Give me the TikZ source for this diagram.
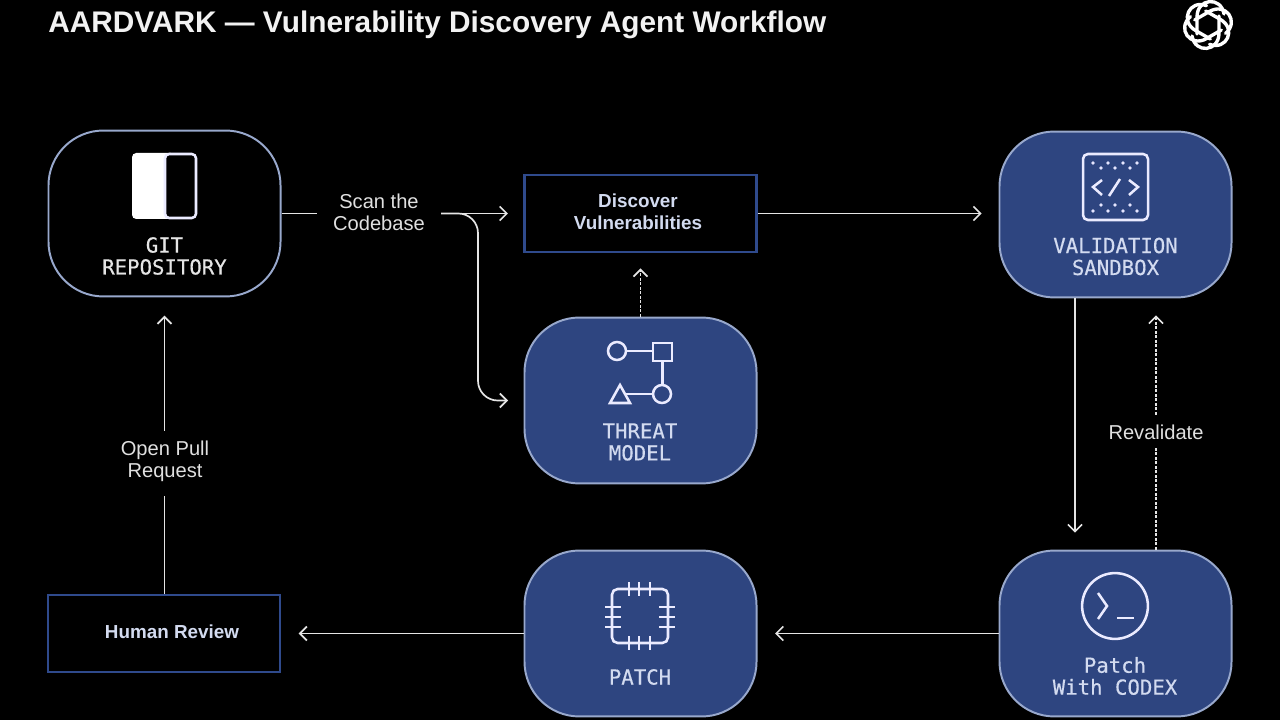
\documentclass[tikz,border=0pt]{standalone}
\usepackage{fontspec}
\setmainfont{Liberation Sans}
\newfontfamily\monofont{DejaVu Sans Mono}[FakeBold=0.4]
\usetikzlibrary{arrows.meta}
\definecolor{navy}{HTML}{2E4580}
\definecolor{paleblue}{HTML}{98A8CC}
\definecolor{rimblue}{HTML}{2F4A8C}
\definecolor{inkblue}{HTML}{D3DBF0}
\tikzset{
	card/.style={draw=paleblue,line width=1.4pt,rounded corners=39pt,minimum width=165pt,minimum height=118pt,inner sep=0pt},
	bluecard/.style={card,fill=navy},
	framebox/.style={draw=rimblue,line width=1.6pt,minimum width=165pt,minimum height=54.5pt},
	frametext/.style={align=center,text=inkblue,font=\fontsize{13.4}{15.6}\selectfont\bfseries},
	cardtext/.style={align=center,text=inkblue,font=\monofont\fontsize{14.7}{15.6}\selectfont},
	flowtext/.style={align=center,text=white!88!black,fill=black,inner sep=0pt,font=\fontsize{14.3}{15.6}\selectfont},
	flow/.style={draw=white!90!black,line width=1.2pt,-{Straight Barb[length=5pt,width=10pt]}},
	plain/.style={draw=white!90!black,line width=1.2pt},
	stub/.style={flow,dash pattern=on 2pt off 1.2pt},
	icon/.style={draw=white!92!blue,line width=1.8pt},
	knot/.style={draw=white,line width=2.4pt,line cap=round}
}
\begin{document}
\begin{tikzpicture}[x=.025cm,y=-.025cm]
	\useasboundingbox[fill=black] (0,0) rectangle (1280,720);
	\node (title) [anchor=west,text=white!95!black,inner sep=0pt,font=\fontsize{21.2}{24}\selectfont\bfseries] at (48,25) {AARDVARK — Vulnerability Discovery Agent Workflow};
	\foreach \a in {0,60,...,300}
		\draw[knot,shift={(1208,25)},rotate=\a] (-11,9) -- (-11,-8) .. controls (-11,-27) and (13,-29) .. (16,-11);
	\node (git) [card] at (164.5,213.5) {};
	\node (sandbox) [bluecard] at (1115.5,214.5) {};
	\node (threat) [bluecard] at (640.5,400.5) {};
	\node (patch) [bluecard] at (640.5,633.5) {};
	\node (codex) [bluecard] at (1115.5,633.5) {};
	\node (discover) [framebox] at (640.5,213.5) {};
	\node (review) [framebox] at (164,633.5) {};
	\node (discovertext) [frametext] at (638,212) {Discover\\Vulnerabilities};
	\node (reviewtext) [frametext] at (172,632) {Human Review};
	\node (gittext) [cardtext,text=white!90!black] at (164.5,256) {GIT\\REPOSITORY};
	\node (sandboxtext) [cardtext] at (1115.5,256.5) {VALIDATION\\SANDBOX};
	\node (threattext) [cardtext] at (640,442) {THREAT\\MODEL};
	\node (patchtext) [cardtext] at (640,677) {PATCH};
	\node (codextext) [cardtext] at (1115,676) {Patch\\With CODEX};
	\node (scan) [flowtext] at (379,212) {Scan the\\Codebase};
	\node (pull) [flowtext] at (165,461) {Open Pull\\Request};
	\coordinate (scanin) at (317,213.5);
	\coordinate (branch) at (441,213.5);
	\coordinate (fork) at (478,300);
	\coordinate (downline) at (1075,400);
	\coordinate (upline) at (1156,400);
	\draw[plain] (git.east) -- (scanin);
	\draw[flow,shorten >=11pt] (branch) -- (discover.west);
	\draw[flow,rounded corners=14pt,shorten >=11pt] (branch) -| (fork) |- (threat.west);
	\draw[flow,shorten >=12pt] (discover.east) -- (discover.east -| sandbox.west);
	\draw[stub,shorten >=11pt] (threat.north) -- (discover.south);
	\draw[flow,shorten >=12pt] (sandbox.south -| downline) -- (codex.north -| downline);
	\draw[stub,shorten >=12pt] (codex.north -| upline) -- (sandbox.south -| upline);
	\node (again) [flowtext,inner xsep=4pt,inner ysep=6pt] at (1156,432) {Revalidate};
	\draw[flow,shorten >=12.5pt] (codex.west) -- (patch.east);
	\draw[flow,shorten >=12.5pt] (patch.west) -- (review.east);
	\draw[plain,shorten >=10pt] (review.north -| git.south) -- (pull.south -| git.south);
	\draw[flow,shorten <=7pt,shorten >=13pt] (pull.north -| git.south) -- (git.south);
	% git icon
	\fill[white,rounded corners=3pt] (132,153) rectangle (175,219);
	\draw[icon,fill=black,rounded corners=3pt] (165,154) rectangle (196,218);
	% sandbox icon
	\draw[icon,rounded corners=3.5pt] (1083,154) rectangle (1148,220);
	\foreach \x in {1093,1108,1123,1137} {
		\fill[white!90!blue] (\x,163) circle (1.4pt);
		\fill[white!90!blue] (\x,211) circle (1.4pt);
	}
	\foreach \x in {1101,1115,1130} {
		\fill[white!90!blue] (\x,168) circle (1.4pt);
		\fill[white!90!blue] (\x,205) circle (1.4pt);
	}
	\draw[icon] (1102,180) -- (1093,187) -- (1102,195);
	\draw[icon] (1129,180) -- (1138,187) -- (1129,195);
	\draw[icon] (1109,196) -- (1120,179);
	% threat icon
	\draw[icon] (617,351) circle (6.4pt);
	\draw[icon] (653,343) rectangle (672,361);
	\draw[icon] (662,394) circle (6.4pt);
	\draw[icon] (620,385) -- (630,403) -- (610,403) -- cycle;
	\draw[icon] (626,351) -- (653,351);
	\draw[icon] (662.5,361) -- (662.5,385);
	\draw[icon] (626,394) -- (653,394);
	% patch icon
	\draw[icon,rounded corners=4pt] (612,589) rectangle (668,643);
	\foreach \x in {629,639,650} {
		\draw[icon] (\x,582) -- (\x,596);
		\draw[icon] (\x,636) -- (\x,650);
	}
	\foreach \y in {607,617,627} {
		\draw[icon] (605,\y) -- (621,\y);
		\draw[icon] (659,\y) -- (675,\y);
	}
	% codex icon
	\draw[icon] (1115,606) circle (23.4pt);
	\draw[icon] (1098,593) -- (1107,606) -- (1098,619);
	\draw[icon] (1117,618) -- (1134,618);
\end{tikzpicture}
\end{document}
